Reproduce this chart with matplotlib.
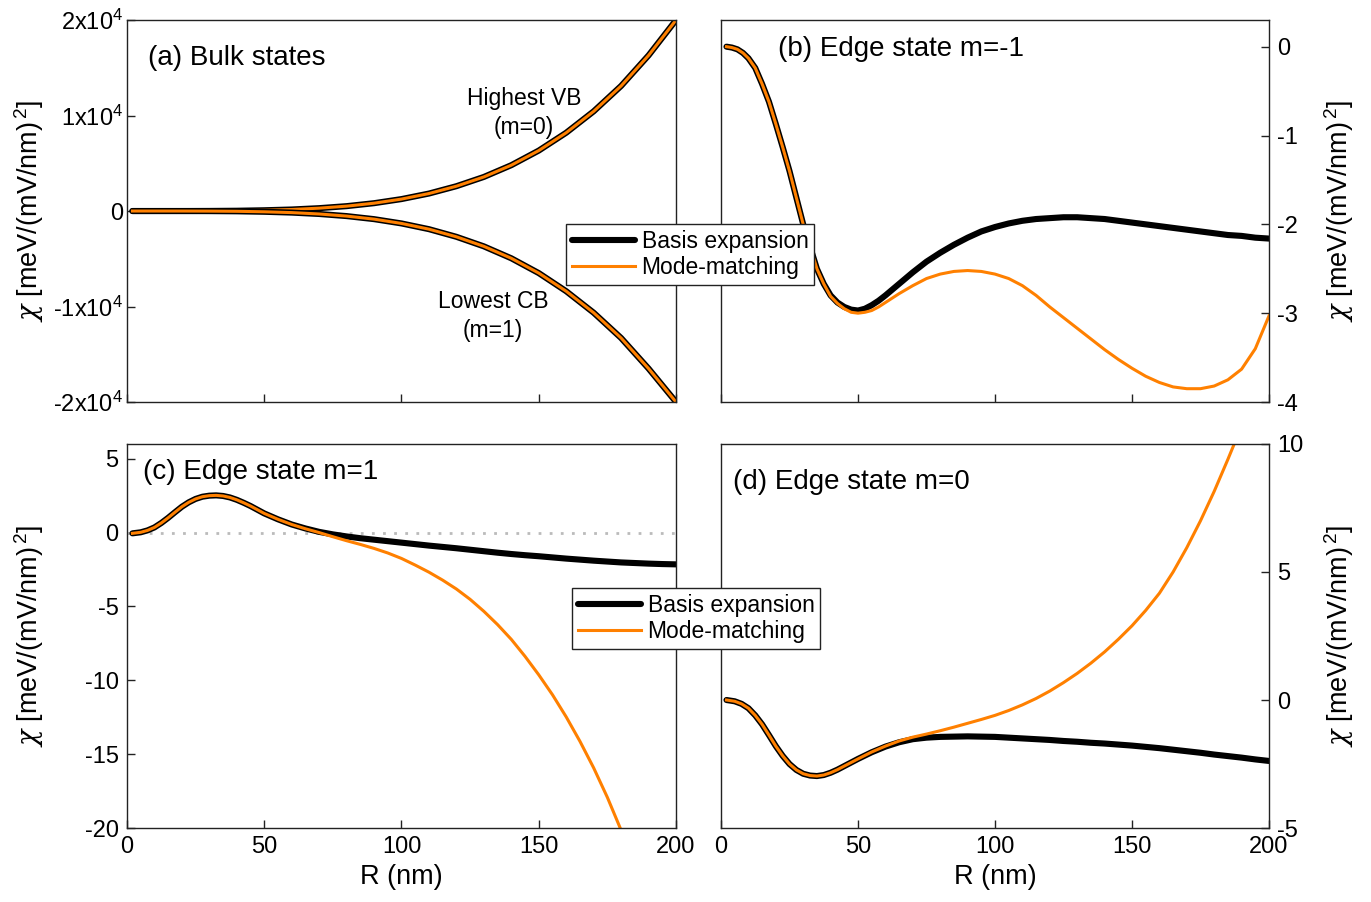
import matplotlib
matplotlib.use('Agg')
import matplotlib.pyplot as plt
from matplotlib.lines import Line2D

plt.rcParams['font.family'] = ['Liberation Sans', 'DejaVu Sans']
plt.rcParams['mathtext.fontset'] = 'custom'
plt.rcParams['mathtext.rm'] = 'Liberation Sans'
plt.rcParams['mathtext.it'] = 'DejaVu Serif:italic'
plt.rcParams['axes.unicode_minus'] = False

# (a) bulk states
r_a = [2, 10, 20, 30, 40, 50, 60, 70, 80, 90, 100, 110, 120, 130, 140, 150, 160, 170, 180, 190, 200]
vb_a = [0, 0, 2, 10, 30, 80, 160, 300, 510, 820, 1250, 1830, 2600, 3570, 4800, 6330, 8200, 10440, 13100, 16300, 20000]
cb_a = [0, 0, -2, -10, -30, -80, -165, -310, -530, -850, -1300, -1900, -2700, -3700, -4950, -6500, -8400, -10650, -13300, -16500, -20000]

# (b) edge state m=-1
r_b = [2, 4, 6, 8, 10, 12.5, 15, 17.5, 20, 22.5, 25, 27.5, 30, 32.5, 35, 37.5, 40, 42.5, 45, 47.5, 50,
       52.5, 55, 57.5, 60, 65, 70, 75, 80, 85, 90, 95, 100, 105, 110, 115, 120, 125, 130, 135, 140,
       145, 150, 155, 160, 165, 170, 175, 180, 185, 190, 195, 200]
basis_b = [0.0, -0.01, -0.03, -0.07, -0.13, -0.24, -0.42, -0.62, -0.87, -1.13, -1.40, -1.70, -2.00, -2.25,
           -2.50, -2.67, -2.80, -2.88, -2.93, -2.96, -2.97, -2.95, -2.91, -2.86, -2.80, -2.67, -2.54, -2.42,
           -2.32, -2.23, -2.15, -2.08, -2.03, -1.99, -1.96, -1.94, -1.93, -1.92, -1.92, -1.93, -1.94, -1.96,
           -1.98, -2.00, -2.02, -2.04, -2.06, -2.08, -2.10, -2.12, -2.13, -2.15, -2.16]
mode_b = [0.0, -0.01, -0.03, -0.07, -0.13, -0.24, -0.42, -0.62, -0.87, -1.13, -1.40, -1.70, -2.00, -2.25,
          -2.50, -2.67, -2.81, -2.89, -2.95, -2.99, -3.00, -2.99, -2.97, -2.93, -2.88, -2.78, -2.69, -2.61,
          -2.56, -2.53, -2.52, -2.53, -2.56, -2.61, -2.69, -2.80, -2.93, -3.05, -3.17, -3.29, -3.41, -3.52,
          -3.62, -3.71, -3.78, -3.83, -3.85, -3.85, -3.82, -3.75, -3.63, -3.40, -3.03]

# (c) edge state m=1
r_c = [2, 5, 7.5, 10, 12.5, 15, 17.5, 20, 22.5, 25, 27.5, 30, 32.5, 35, 37.5, 40, 42.5, 45, 47.5, 50,
       55, 60, 65, 70, 75, 80, 85, 90, 95, 100, 105, 110, 115, 120, 125, 130, 135, 140, 145, 150,
       155, 160, 165, 170, 175, 180, 185, 190, 195, 200]
basis_c = [-0.05, 0.02, 0.15, 0.35, 0.65, 1.0, 1.38, 1.75, 2.05, 2.28, 2.43, 2.5, 2.52, 2.48, 2.38, 2.22,
           2.02, 1.8, 1.55, 1.3, 0.9, 0.55, 0.28, 0.05, -0.12, -0.26, -0.38, -0.48, -0.58, -0.68, -0.78,
           -0.88, -0.97, -1.06, -1.16, -1.26, -1.36, -1.45, -1.53, -1.6, -1.68, -1.76, -1.83, -1.9, -1.96,
           -2.02, -2.06, -2.1, -2.13, -2.15]
mode_c = [-0.05, 0.02, 0.15, 0.35, 0.65, 1.0, 1.38, 1.75, 2.05, 2.28, 2.43, 2.5, 2.52, 2.48, 2.38, 2.22,
          2.02, 1.8, 1.55, 1.3, 0.9, 0.55, 0.26, 0.0, -0.28, -0.55, -0.8, -1.07, -1.38, -1.75, -2.2,
          -2.68, -3.22, -3.82, -4.52, -5.33, -6.23, -7.23, -8.38, -9.63, -10.98, -12.48, -14.13, -15.93,
          -17.93, -20.15, None, None, None, None]

# (d) edge state m=0
r_d = [2, 5, 7.5, 10, 12.5, 15, 17.5, 20, 22.5, 25, 27.5, 30, 32.5, 35, 37.5, 40, 42.5, 45, 47.5, 50,
       55, 60, 65, 70, 75, 80, 85, 90, 95, 100, 105, 110, 115, 120, 125, 130, 135, 140, 145, 150,
       155, 160, 165, 170, 175, 180, 185, 190, 195, 200]
basis_d = [0.0, -0.05, -0.15, -0.32, -0.6, -0.95, -1.37, -1.8, -2.18, -2.5, -2.73, -2.88, -2.95, -2.97,
           -2.93, -2.84, -2.72, -2.58, -2.44, -2.3, -2.04, -1.82, -1.65, -1.53, -1.47, -1.44, -1.43, -1.42,
           -1.43, -1.44, -1.47, -1.5, -1.53, -1.56, -1.6, -1.63, -1.67, -1.7, -1.74, -1.78, -1.83, -1.88,
           -1.94, -2.0, -2.06, -2.13, -2.19, -2.25, -2.32, -2.38]
mode_d = [0.0, -0.05, -0.15, -0.32, -0.6, -0.95, -1.37, -1.8, -2.18, -2.5, -2.73, -2.88, -2.95, -2.97,
          -2.93, -2.84, -2.72, -2.58, -2.44, -2.3, -2.03, -1.8, -1.6, -1.45, -1.33, -1.2, -1.06, -0.91,
          -0.76, -0.6, -0.41, -0.19, 0.06, 0.35, 0.68, 1.04, 1.44, 1.88, 2.37, 2.9, 3.5, 4.17, 5.0, 5.95,
          7.0, 8.15, 9.4, 10.7, None, None]

orange = '#ff8000'
ylab = '$\\chi$ [meV/(mV/nm)$^{\\,2}$]'

fig = plt.figure(figsize=(13.71, 9.02), dpi=100)
ax_a = fig.add_axes([0.0926, 0.5543, 0.4005, 0.4235])
ax_b = fig.add_axes([0.5259, 0.5543, 0.3997, 0.4235])
ax_c = fig.add_axes([0.0926, 0.0820, 0.4005, 0.4258])
ax_d = fig.add_axes([0.5259, 0.0820, 0.3997, 0.4258])

for ax in [ax_a, ax_b, ax_c, ax_d]:
    ax.set_xlim(0, 200)
    ax.set_xticks([0, 50, 100, 150, 200])
    for s in ax.spines.values():
        s.set_color('#222222')
        s.set_linewidth(1.0)
    ax.tick_params(direction='in', length=6, width=1, labelsize=17, color='#222222', pad=6)

# (a)
ax_a.plot(r_a, vb_a, color='black', lw=4.4, solid_capstyle='round')
ax_a.plot(r_a, vb_a, color=orange, lw=2.2)
ax_a.plot(r_a, cb_a, color='black', lw=4.4, solid_capstyle='round')
ax_a.plot(r_a, cb_a, color=orange, lw=2.2)
ax_a.set_ylim(-2e4, 2e4)
ax_a.set_yticks([-2e4, -1e4, 0, 1e4, 2e4])
ax_a.set_yticklabels(['-2x10$^4$', '-1x10$^4$', '0', '1x10$^4$', '2x10$^4$'])
ax_a.tick_params(labelbottom=False, pad=3)
ax_a.set_ylabel(ylab, fontsize=19.5)
ax_a.text(0.038, 0.90, '(a) Bulk states', transform=ax_a.transAxes, fontsize=20, va='center')
ax_a.text(144.6, 1.03e4, 'Highest VB\n(m=0)', ha='center', va='center', fontsize=16.5, linespacing=1.35)
ax_a.text(133.3, -1.10e4, 'Lowest CB\n(m=1)', ha='center', va='center', fontsize=16.5, linespacing=1.35)

# (b)
ax_b.plot(r_b, basis_b, color='black', lw=4.4, solid_capstyle='round')
ax_b.plot(r_b, mode_b, color=orange, lw=2.2)
ax_b.set_ylim(-4, 0.3)
ax_b.set_yticks([-4, -3, -2, -1, 0])
ax_b.yaxis.tick_right()
ax_b.yaxis.set_label_position('right')
ax_b.tick_params(labelbottom=False)
ax_b.set_ylabel(ylab, fontsize=19.5)
ax_b.text(0.104, 0.924, '(b) Edge state m=-1', transform=ax_b.transAxes, fontsize=20, va='center')

# (c)
ax_c.axhline(0, color='#bbbbbb', lw=2, linestyle=(0, (1, 3)))
ax_c.plot(r_c, basis_c, color='black', lw=4.4, solid_capstyle='round')
ax_c.plot(r_c, mode_c, color=orange, lw=2.2)
ax_c.set_ylim(-20, 6)
ax_c.set_yticks([-20, -15, -10, -5, 0, 5])
ax_c.set_ylabel(ylab, fontsize=19.5)
ax_c.set_xlabel('R (nm)', fontsize=19.5, labelpad=4)
ax_c.text(0.029, 0.927, '(c) Edge state m=1', transform=ax_c.transAxes, fontsize=20, va='center')

# (d)
ax_d.plot(r_d, basis_d, color='black', lw=4.4, solid_capstyle='round')
ax_d.plot(r_d, mode_d, color=orange, lw=2.2)
ax_d.set_ylim(-5, 10)
ax_d.set_yticks([-5, 0, 5, 10])
ax_d.yaxis.tick_right()
ax_d.yaxis.set_label_position('right')
ax_d.set_ylabel(ylab, fontsize=19.5)
ax_d.set_xlabel('R (nm)', fontsize=19.5, labelpad=4)
ax_d.text(0.022, 0.901, '(d) Edge state m=0', transform=ax_d.transAxes, fontsize=20, va='center')

# y labels aligned like the reference
for ax in [ax_a, ax_c]:
    ax.yaxis.set_label_coords(-0.148, 0.5)
for ax in [ax_b, ax_d]:
    ax.yaxis.set_label_coords(1.097, 0.5)

handles = [Line2D([], [], color='black', lw=4.4, solid_capstyle='round'),
           Line2D([], [], color=orange, lw=2.2)]
labels = ['Basis expansion', 'Mode-matching']
for x0, y0 in [(0.4128, 0.7517), (0.4172, 0.3481)]:
    leg = fig.legend(handles, labels, loc='upper left', bbox_to_anchor=(x0, y0), fontsize=16.5,
                     frameon=True, fancybox=False, borderaxespad=0, handlelength=2.75,
                     handletextpad=0.3, borderpad=0.25, labelspacing=0.15)
    leg.get_frame().set_edgecolor('#222222')
    leg.get_frame().set_linewidth(1.0)
    leg.get_frame().set_alpha(1)

fig.savefig('out.png', dpi=100)
